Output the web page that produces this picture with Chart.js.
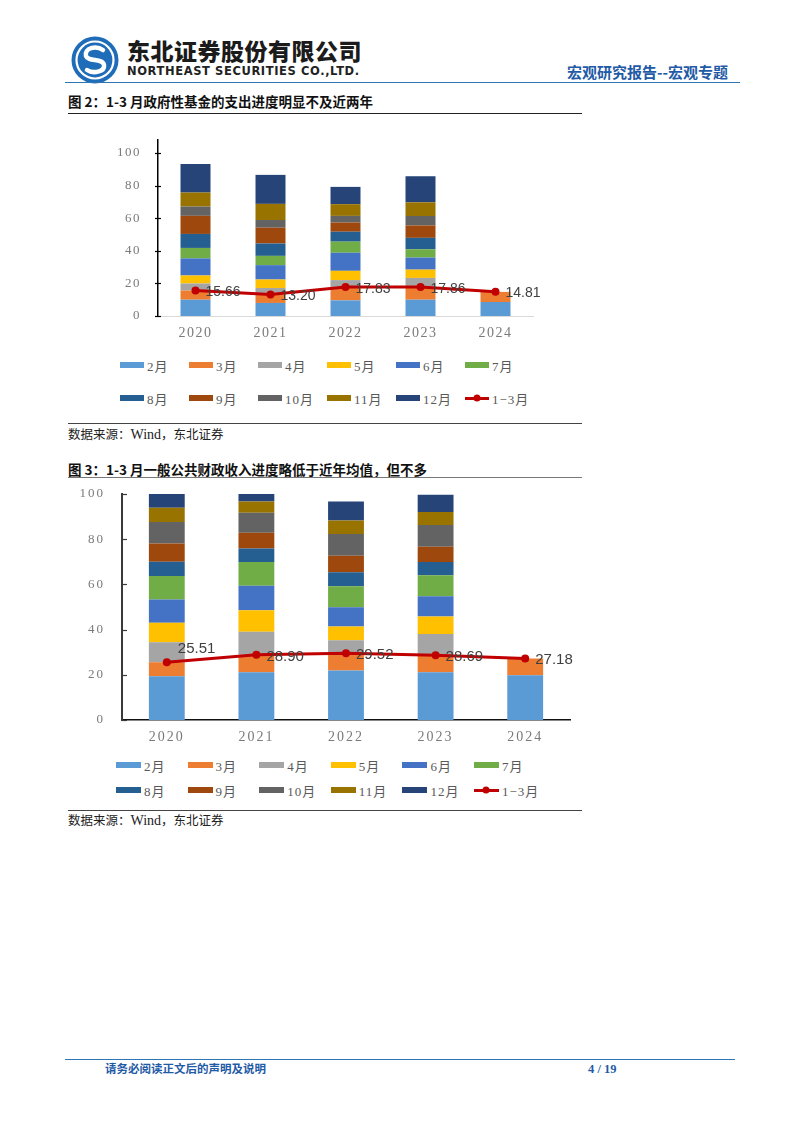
<!DOCTYPE html>
<html>
<head>
<meta charset="utf-8">
<script src="https://cdn.jsdelivr.net/npm/chart.js@4.4.1/dist/chart.umd.min.js"></script>
<style>
  body { margin: 0; background: #fff; }
  .page { position: relative; width: 802px; height: 1133px; overflow: hidden; font-family: "Noto Sans CJK SC", sans-serif; }
  .abs { position: absolute; line-height: 1; white-space: nowrap; }
  .hline { position: absolute; height: 0; }
  .cname { left: 127px; top: 39px; font-size: 23px; font-weight: 900; color: #1b1b1b; letter-spacing: 0.5px; }
  .ename { left: 127px; top: 66px; font-family: "DejaVu Sans", sans-serif; font-size: 11.5px; font-weight: bold; color: #222; letter-spacing: 0.6px; }
  .rtitle { left: 567px; top: 64px; font-size: 15px; font-weight: bold; color: #1f5aa6; }
  .ftitle { left: 68px; font-size: 13.5px; font-weight: bold; color: #111; }
  .src { left: 68px; font-size: 12.5px; color: #222; }
  .src i { font-style: normal; font-family: "Liberation Serif", serif; font-size: 14px; }
  .legend { position: absolute; display: grid; font-family: "Liberation Serif", "Noto Sans CJK SC", serif; font-size: 13px; color: #595959; letter-spacing: 1px; }
  .legend .item { display: flex; align-items: center; height: 16px; white-space: nowrap; }
  .legend .sw { display: inline-block; height: 6px; margin-right: 3px; position: relative; }
  .legend .ln { display: inline-block; height: 3px; margin-right: 3px; position: relative; }
  .legend .ln b { position: absolute; left: 50%; top: 50%; width: 7px; height: 7px; border-radius: 50%; transform: translate(-50%, -50%); }
  .foot { left: 105px; top: 1063px; font-size: 11.5px; font-weight: bold; color: #1f5aa6; }
  .pnum { left: 588px; top: 1063px; font-family: "Liberation Serif", serif; font-size: 12.5px; font-weight: bold; color: #1f5aa6; }
</style>
</head>
<body>
<div class="page">
  <svg class="abs" style="left:70px;top:35px" width="50" height="50" viewBox="0 0 50 50">
    <circle cx="25" cy="25" r="23.5" fill="#1f6db8"/>
    <circle cx="25" cy="25" r="18.5" fill="none" stroke="#fff" stroke-width="2.2"/>
    <path d="M33 15 C26 10 14 13 16 21 C18 27 33 23 34 30 C35 37 23 39 17 35" fill="none" stroke="#fff" stroke-width="4.5" stroke-linecap="round"/>
  </svg>
  <div class="abs cname">东北证券股份有限公司</div>
  <div class="abs ename">NORTHEAST SECURITIES CO.,LTD.</div>
  <div class="abs rtitle">宏观研究报告--宏观专题</div>
  <div class="hline" style="left:65px;top:82px;width:675px;border-top:1.5px solid #2e75b6"></div>

  <div class="abs ftitle" style="top:95px">图 2：1-3 月政府性基金的支出进度明显不及近两年</div>
  <div class="hline" style="left:68px;top:113px;width:514px;border-top:1px solid #222"></div>
  <div class="abs" style="left:100px;top:130px"><canvas id="spendChart" width="440" height="215"></canvas></div>
  <div class="legend" id="spendLegend" style="left:120px;top:357px;grid-template-columns:repeat(6,69px);row-gap:17px"></div>
  <div class="hline" style="left:68px;top:423px;width:514px;border-top:1.5px solid #444"></div>
  <div class="abs src" style="top:428px">数据来源：<i>Wind</i>，东北证券</div>

  <div class="abs ftitle" style="top:463px">图 3：1-3 月一般公共财政收入进度略低于近年均值，但不多</div>
  <div class="hline" style="left:68px;top:477px;width:514px;border-top:1px solid #777"></div>
  <div class="abs" style="left:60px;top:484px"><canvas id="revChart" width="520" height="262"></canvas></div>
  <div class="legend" id="revLegend" style="left:116px;top:757px;grid-template-columns:repeat(6,71.6px);row-gap:9px"></div>
  <div class="hline" style="left:68px;top:810px;width:514px;border-top:1.5px solid #444"></div>
  <div class="abs src" style="top:814px">数据来源：<i>Wind</i>，东北证券</div>

  <div class="hline" style="left:65px;top:1059px;width:670px;border-top:1.5px solid #2e75b6"></div>
  <div class="abs foot">请务必阅读正文后的声明及说明</div>
  <div class="abs pnum">4 / 19</div>
</div>

<script>
// categories
const years = ['2020', '2021', '2022', '2023', '2024'];
const months = ['2月', '3月', '4月', '5月', '6月', '7月', '8月', '9月', '10月', '11月', '12月'];
const monthColors = ['#5b9bd5', '#ed7d31', '#a5a5a5', '#ffc000', '#4472c4', '#70ad47',
                     '#255e91', '#9e480e', '#636363', '#997300', '#264478'];
const q1Label = '1-3月';
const q1Color = '#c00000';
const yTicks = [0, 20, 40, 60, 80, 100];

// 图2 政府性基金支出进度(%)，每行一个月，列为年份
const fundSpend = [
    [10.0, 8.0, 9.6, 10.0, 8.6],   // 2月
    [5.66, 5.2, 8.23, 7.86, 6.21], // 3月
    [4.3, 4.0, 4.2, 5.5, null],    // 4月
    [4.9, 5.2, 5.7, 5.1, null],    // 5月
    [10.5, 8.8, 11.1, 7.4, null],  // 6月
    [6.4, 5.7, 6.8, 5.1, null],    // 7月
    [8.6, 7.6, 6.1, 7.0, null],    // 8月
    [11.1, 9.7, 5.6, 7.6, null],   // 9月
    [5.7, 4.7, 4.1, 5.8, null],    // 10月
    [8.6, 9.9, 7.2, 8.4, null],    // 11月
    [17.5, 17.8, 10.6, 16.0, null] // 12月
];
const fundSpendQ1 = [15.66, 13.20, 17.83, 17.86, 14.81];

// 图3 一般公共财政收入进度(%)
const publicRev = [
    [19.35, 21.1, 21.9, 21.1, 19.8], // 2月
    [6.16, 7.8, 7.62, 7.59, 7.38],   // 3月
    [8.9, 10.2, 5.8, 9.4, null],     // 4月
    [8.6, 9.5, 6.1, 7.7, null],      // 5月
    [10.3, 10.8, 8.5, 9.0, null],    // 6月
    [10.4, 10.5, 9.3, 9.3, null],    // 7月
    [6.3, 6.0, 6.2, 5.8, null],      // 8月
    [8.1, 7.0, 7.3, 6.8, null],      // 9月
    [9.5, 8.8, 9.6, 9.6, null],      // 10月
    [6.3, 5.0, 6.0, 5.7, null],      // 11月
    [6.1, 3.3, 8.4, 7.7, null]       // 12月
];
const publicRevQ1 = [25.51, 28.90, 29.52, 28.69, 27.18];

// value labels next to the red line + tick spacing + little axis ticks
const decorPlugin = {
    id: 'decor',
    beforeDraw(chart, args, opts) {
        chart.ctx.letterSpacing = opts.spacing + 'px';
    },
    afterDatasetsDraw(chart, args, opts) {
        const ctx = chart.ctx;
        const yScale = chart.scales.y;
        const x0 = chart.chartArea.left;
        ctx.save();
        ctx.letterSpacing = '0px';
        ctx.strokeStyle = opts.tickColor;
        ctx.lineWidth = 1.2;
        yTicks.forEach(v => {
            const py = Math.round(yScale.getPixelForValue(v)) + 0.5;
            ctx.beginPath();
            ctx.moveTo(x0 - opts.tickOut, py);
            ctx.lineTo(x0 + opts.tickIn, py);
            ctx.stroke();
        });
        const idx = chart.data.datasets.length - 1;
        const meta = chart.getDatasetMeta(idx);
        const vals = chart.data.datasets[idx].data;
        ctx.font = opts.labelSize + 'px "Liberation Sans", Arial, sans-serif';
        ctx.fillStyle = '#404040';
        ctx.textAlign = 'left';
        ctx.textBaseline = 'middle';
        meta.data.forEach((pt, i) => {
            const off = opts.offsets[i] || [10, 1];
            ctx.fillText(vals[i].toFixed(2), pt.x + off[0], pt.y + off[1]);
        });
        ctx.restore();
    },
    afterDraw(chart) {
        chart.ctx.letterSpacing = '0px';
    }
};

function makeChart(id, legendId, rows, q1, cfg) {
    const datasets = rows.map((vals, i) => ({
        type: 'bar',
        label: months[i],
        data: vals,
        backgroundColor: monthColors[i],
        stack: 'months',
        order: 1,
        barPercentage: 0.4,
        categoryPercentage: 1
    }));
    datasets.push({
        type: 'line',
        label: q1Label,
        data: q1,
        borderColor: q1Color,
        backgroundColor: q1Color,
        borderWidth: 3,
        pointRadius: 4,
        pointBackgroundColor: q1Color,
        pointBorderWidth: 0,
        stack: 'q1',
        order: 0,
        tension: 0
    });

    const chart = new Chart(document.getElementById(id), {
        data: { labels: years, datasets: datasets },
        options: {
            responsive: false,
            animation: false,
            layout: { autoPadding: false, padding: { top: cfg.padTop, right: cfg.padRight, left: 0, bottom: 0 } },
            plugins: {
                legend: { display: false },
                tooltip: { enabled: false },
                decor: {
                    spacing: cfg.spacing,
                    labelSize: cfg.labelSize,
                    offsets: cfg.offsets,
                    tickIn: cfg.tickIn,
                    tickOut: cfg.tickOut,
                    tickColor: cfg.yBorder
                }
            },
            scales: {
                x: {
                    stacked: true,
                    grid: { display: false, drawTicks: false },
                    border: { color: cfg.xBorder, width: cfg.xBorderWidth },
                    ticks: {
                        color: '#7a7a7a',
                        padding: 9,
                        font: { family: '"Liberation Serif", serif', size: 14 }
                    },
                    afterFit(scale) { scale.height = cfg.xHeight; }
                },
                y: {
                    stacked: true,
                    min: 0,
                    max: cfg.yMax,
                    grid: { display: false, drawTicks: false },
                    border: { color: cfg.yBorder, width: cfg.yBorderWidth },
                    ticks: {
                        color: '#7a7a7a',
                        padding: 17,
                        font: { family: '"Liberation Serif", serif', size: 13 }
                    },
                    afterBuildTicks(scale) {
                        scale.ticks = yTicks.map(v => ({ value: v }));
                    },
                    afterFit(scale) {
                        scale.width = cfg.yWidth;
                        scale.paddingTop = 0;
                        scale.paddingBottom = 0;
                    }
                }
            }
        },
        plugins: [decorPlugin]
    });

    // legend built from the chart's own datasets, laid out as a grid like the original
    const box = document.getElementById(legendId);
    chart.data.datasets.forEach(ds => {
        const item = document.createElement('div');
        item.className = 'item';
        const sw = document.createElement('span');
        if (ds.type === 'line') {
            sw.className = 'ln';
            sw.style.background = ds.borderColor;
            sw.style.width = cfg.swatch + 'px';
            const dot = document.createElement('b');
            dot.style.background = ds.borderColor;
            sw.appendChild(dot);
        } else {
            sw.className = 'sw';
            sw.style.background = ds.backgroundColor;
            sw.style.width = cfg.swatch + 'px';
        }
        item.appendChild(sw);
        item.appendChild(document.createTextNode(ds.label.replace('-', '−')));
        box.appendChild(item);
    });
    return chart;
}

makeChart('spendChart', 'spendLegend', fundSpend, fundSpendQ1, {
    yMax: 108, yWidth: 58, xHeight: 29, padTop: 10, padRight: 7,
    yBorder: '#000', yBorderWidth: 1.5, xBorder: '#d9d9d9', xBorderWidth: 1,
    tickIn: 3, tickOut: 3,
    spacing: 1.5, labelSize: 14, swatch: 24,
    offsets: [[10, 2], [10, 2], [10, 2], [10, 2], [10, 1]]
});

makeChart('revChart', 'revLegend', publicRev, publicRevQ1, {
    yMax: 100, yWidth: 62, xHeight: 26, padTop: 10, padRight: 10,
    yBorder: '#3a3a3a', yBorderWidth: 2, xBorder: '#111', xBorderWidth: 1.5,
    tickIn: 5, tickOut: 0,
    spacing: 2, labelSize: 15, swatch: 25,
    offsets: [[11, -13], [10, 2], [10, 2], [10, 2], [10, 1]]
});
</script>
</body>
</html>
